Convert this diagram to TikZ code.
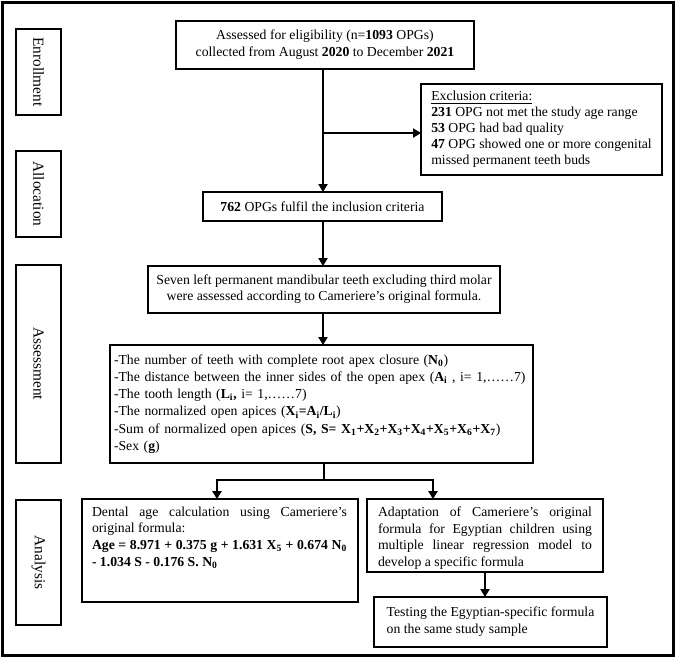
\documentclass[tikz,border=0pt]{standalone}
\usepackage{fontspec}
\setmainfont{Liberation Serif}
\usetikzlibrary{arrows.meta}
\newcommand{\fsz}[2]{\fontsize{#1}{#2}\selectfont}
\begin{document}
\begin{tikzpicture}[x=0.75pt,y=-0.75pt,
  every node/.style={inner sep=0pt, outer sep=0pt, font=\fsz{10.3pt}{12.75pt}},
  box/.style={draw, line width=0.8pt},
  sidebox/.style={draw, line width=0.8pt, minimum width=33.75pt, font=\fsz{11.5pt}{13pt}},
  conn/.style={line width=0.8pt, -{Triangle[length=6pt,width=7pt]}},
  heavy/.style={line width=1.3pt},
  heavyarrow/.style={line width=1.3pt, -{Triangle[length=6pt,width=7pt]}}
]
\useasboundingbox (0,0) rectangle (676,658);
\draw[line width=2.2pt] (2.5,2.5) rectangle (673.5,655.5);

% side labels
\node[sidebox, minimum height=64.5pt] (enr) at (38.5,72) {\rotatebox{-90}{Enrollment}};
\node[sidebox, minimum height=64.5pt] (alloc) at (38.5,194) {\rotatebox{-90}{Allocation}};
\node[sidebox, minimum height=148.5pt] (assess) at (38.5,364) {\rotatebox{-90}{Assessment}};
\node[sidebox, minimum height=93.75pt] (anal) at (38.5,562.5) {\rotatebox{-90}{Analysis}};

% main boxes
\node[box, minimum width=223.5pt, minimum height=36pt, align=center] (top) at (325,45)
  {Assessed for eligibility (n=\textbf{1093} OPGs)\\collected from August \textbf{2020} to December \textbf{2021}};

\node[box, minimum width=180.75pt, minimum height=68.25pt, align=left, font=\fsz{10.3pt}{12pt}] (excl) at (541.5,129.5)
  {\underline{Exclusion criteria:}\\
   \textbf{231} OPG not met the study age range\\
   \textbf{53} OPG had bad quality\\
   \textbf{47} OPG showed one or more congenital\\
   missed permanent teeth buds};

\node[box, minimum width=179.25pt, minimum height=21.75pt] (sel) at (322.5,206.5)
  {\textbf{762} OPGs fulfil the inclusion criteria};

\node[box, minimum width=264pt, minimum height=35.25pt, align=center, font=\fsz{10.3pt}{12pt}] (seven) at (324,289.5)
  {Seven left permanent mandibular teeth excluding third molar\\were assessed according to Cameriere’s original formula.};

\node[box, text width=311.25pt, inner xsep=3pt, minimum height=88.5pt, align=left, font=\fsz{10.3pt}{12.9pt}] (list) at (321.5,404)
  {-The number of teeth with complete root apex closure (\textbf{N\textsubscript{0}})\\
   -The distance between the inner sides of the open apex (\textbf{A\textsubscript{i}} , i= 1,……7)\\
   -The tooth length (\textbf{L\textsubscript{i},} i= 1,……7)\\
   -The normalized open apices (\textbf{X\textsubscript{i}=A\textsubscript{i}/L\textsubscript{i}})\\
   -Sum of normalized open apices (\textbf{S, S= X\textsubscript{1}+X\textsubscript{2}+X\textsubscript{3}+X\textsubscript{4}+X\textsubscript{5}+X\textsubscript{6}+X\textsubscript{7}})\\
   -Sex (\textbf{g})};

\node[box, minimum width=207pt, minimum height=77.25pt] (dental) at (220,550.5) {};
\node[anchor=north west, text width=191.25pt, align=justify, font=\fsz{10.3pt}{12.6pt}] (dentaltxt)
  at ([xshift=7.5pt,yshift=-5.7pt]dental.north west)
  {Dental age calculation using Cameriere’s\linebreak original formula:\\
   \textbf{Age = 8.971 + 0.375 g + 1.631 X\textsubscript{5} + 0.674 N\textsubscript{0}}\linebreak
   \textbf{- 1.034 S - 0.176 S. N\textsubscript{0}}};

\node[box, minimum width=177pt, minimum height=54.75pt] (adapt) at (485,535.5) {};
\node[anchor=north west, text width=160.5pt, align=justify, font=\fsz{10.3pt}{12.6pt}] (adapttxt)
  at ([xshift=8.25pt,yshift=-5.7pt]adapt.north west)
  {Adaptation of Cameriere’s original\linebreak formula for Egyptian children using\linebreak
   multiple linear regression model to\linebreak develop a specific formula};

\node[box, minimum width=174.75pt, minimum height=37.5pt, align=left] (test) at (490.5,622)
  {Testing the Egyptian-specific formula\\on the same study sample};

% connectors
\coordinate (split) at (323,133);
\draw[conn] (top.south -| split) -- (sel.north -| split);
\draw[conn] (split) -- (excl.west |- split);
\draw[conn] (sel.south -| split) -- (seven.north -| split);
\draw[conn] (seven.south -| split) -- (list.north -| split);

\coordinate (bm) at (324,480);
\coordinate (bl) at (217,480);
\coordinate (brr) at (433,480);
\draw[heavy] (list.south -| bm) -- (bm);
\draw[heavyarrow] (bm) -| (dental.north -| bl);
\draw[heavyarrow] (bm) -| (adapt.north -| brr);
\draw[conn] (adapt.south) -- (test.north -| adapt.south);
\end{tikzpicture}
\end{document}
